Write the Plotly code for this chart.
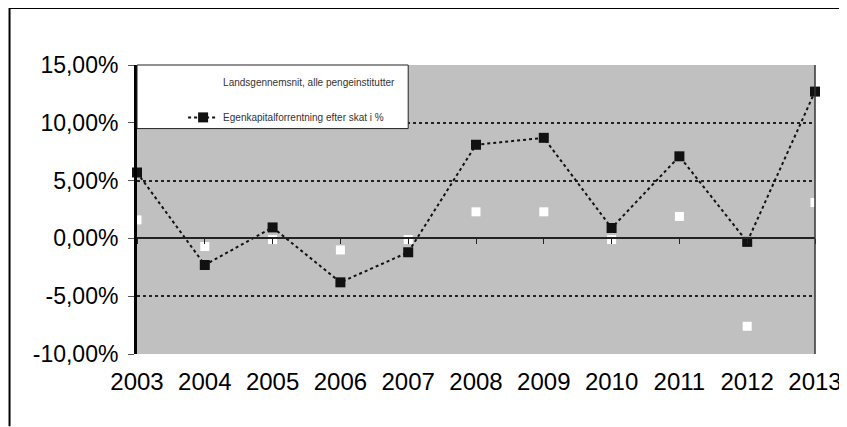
import plotly.graph_objects as go

years = [2003, 2004, 2005, 2006, 2007, 2008, 2009, 2010, 2011, 2012, 2013]
# main series (black squares, dotted line)
main_values = [0.057, -0.023, 0.0095, -0.038, -0.012, 0.081, 0.087, 0.009, 0.071, -0.003, 0.127]
# second series (white markers)
avg_values = [0.016, -0.007, -0.001, -0.010, -0.001, 0.023, 0.023, -0.001, 0.019, -0.076, 0.031]
legend_labels = ["Landsgennemsnit, alle pengeinstitutter", "Egenkapitalforrentning efter skat i %"]
y_ticks = [-0.10, -0.05, 0.0, 0.05, 0.10, 0.15]
y_tick_labels = ["-10,00%", "-5,00%", "0,00%", "5,00%", "10,00%", "15,00%"]

font_family = "Arial, Liberation Sans, sans-serif"

fig = go.Figure()

fig.add_trace(go.Scatter(
    x=years, y=avg_values,
    name=legend_labels[0],
    mode="markers",
    marker=dict(symbol="square", size=9, color="white", line=dict(width=0)),
    xaxis="x2",
    legendgroup="a",
    cliponaxis=False,
))

fig.add_trace(go.Scatter(
    x=years, y=main_values,
    name=legend_labels[1],
    mode="lines+markers",
    line=dict(color="#111111", width=2, dash="dot"),
    marker=dict(symbol="square", size=10, color="#111111"),
    legendgroup="b",
    cliponaxis=False,
))

# legend box drawn as a white rectangle over the plot area
fig.add_shape(type="rect", xref="paper", yref="paper",
              x0=0, x1=0.40, y0=0.78, y1=1.0,
              fillcolor="white", line=dict(color="#222222", width=1), layer="above")

# right edge of the plot area
fig.add_shape(type="line", xref="paper", yref="paper",
              x0=1, x1=1, y0=0, y1=1, line=dict(color="#333333", width=1.5))

# outer chart border (top and left, as in the scan)
fig.add_shape(type="line", xref="paper", yref="paper",
              x0=-0.188, x1=1.06, y0=1.197, y1=1.197, line=dict(color="black", width=2))
fig.add_shape(type="line", xref="paper", yref="paper",
              x0=-0.188, x1=-0.188, y0=1.197, y1=-0.25, line=dict(color="black", width=2))

fig.update_layout(
    width=839, height=419,
    margin=dict(l=129, r=32, t=57, b=73, autoexpand=False),
    paper_bgcolor="white",
    plot_bgcolor="#c0c0c0",
    separators=",.",
    font=dict(family=font_family, size=23, color="black"),
    showlegend=True,
    legend=dict(
        x=0.068, y=0.99, xanchor="left", yanchor="top",
        bgcolor="rgba(0,0,0,0)",
        font=dict(size=10, color="#333333"),
        traceorder="grouped",
        tracegroupgap=16,
    ),
    xaxis=dict(
        range=[2003, 2013],
        tickmode="array", tickvals=years, ticktext=[str(y) for y in years],
        tickfont=dict(size=24),
        showgrid=False, zeroline=False, showline=False,
        ticks="", ticklabelstandoff=11, automargin=False,
    ),
    xaxis2=dict(
        overlaying="x", matches="x", anchor="free", position=0.4,
        showticklabels=False, showgrid=False, zeroline=False,
        showline=True, linecolor="#222222", linewidth=1.5,
        ticks="outside", ticklen=5, tickcolor="#222222",
        tickmode="array", tickvals=years, automargin=False,
    ),
    yaxis=dict(
        range=[-0.10, 0.15],
        tickmode="array", tickvals=y_ticks, ticktext=y_tick_labels,
        showgrid=True, gridcolor="#222222", gridwidth=2, griddash="dot",
        zeroline=False,
        showline=True, linecolor="black", linewidth=3,
        ticks="outside", ticklen=6, tickcolor="#555555",
        ticklabelstandoff=5, automargin=False,
    ),
)

fig.write_html("out.html")
